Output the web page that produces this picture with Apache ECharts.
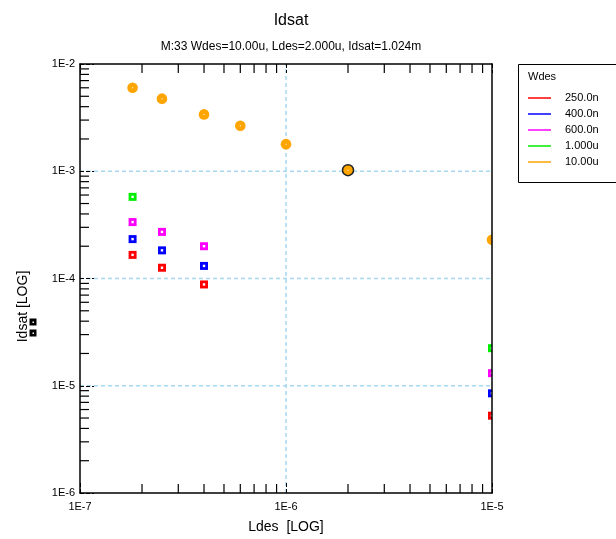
<!DOCTYPE html>
<html>
<head>
<meta charset="UTF-8">
<title>Idsat</title>
<script src="https://cdn.jsdelivr.net/npm/echarts@6/dist/echarts.min.js"></script>
<style>
  html, body { margin: 0; padding: 0; background: #fff; }
  #main { width: 616px; height: 539px; }
</style>
</head>
<body>
<div id="main"></div>
<script type="text/javascript">
// legend entries (Wdes) and their colours
var wdesNames = ['250.0n', '400.0n', '600.0n', '1.000u', '10.00u'];
var wdesColors = ['#ff0000', '#0000ff', '#ff00ff', '#00ee00', '#ffa500'];

// Ldes (x) and Idsat (y) per Wdes
var ldes250 = [1.8e-7, 2.5e-7, 4e-7, 1e-5];
var idsat250 = [1.66e-4, 1.26e-4, 8.8e-5, 5.26e-6];
var ldes400 = [1.8e-7, 2.5e-7, 4e-7, 1e-5];
var idsat400 = [2.33e-4, 1.83e-4, 1.31e-4, 8.5e-6];
var ldes600 = [1.8e-7, 2.5e-7, 4e-7, 1e-5];
var idsat600 = [3.36e-4, 2.72e-4, 2.0e-4, 1.31e-5];
var ldes1u = [1.8e-7, 1e-5];
var idsat1u = [5.77e-4, 2.24e-5];
var ldes10u = [1.8e-7, 2.5e-7, 4e-7, 6e-7, 1e-6, 2e-6, 1e-5];
var idsat10u = [6.0e-3, 4.75e-3, 3.39e-3, 2.66e-3, 1.79e-3, 1.024e-3, 2.30e-4];
var selectedIndex = 5; // M:33 point, Ldes=2.000u

// axis ticks / grid lines
var xMin = 1e-7, xMax = 1e-5, yMin = 1e-6, yMax = 1e-2;
var minorMult = [2, 3, 4, 5, 6, 7, 8, 9];
var xDecades = [1e-7, 1e-6];
var yDecades = [1e-6, 1e-5, 1e-4, 1e-3];
var xGridLines = [1e-6];
var yGridLines = [1e-5, 1e-4, 1e-3];

var xMinorTicks = [];
xDecades.forEach(function (d) { minorMult.forEach(function (m) { xMinorTicks.push(m * d); }); });
var yMinorTicks = [];
yDecades.forEach(function (d) { minorMult.forEach(function (m) { yMinorTicks.push(m * d); }); });

function zip(xs, ys) {
  return xs.map(function (x, i) { return [x, ys[i]]; });
}
var seriesData = [zip(ldes250, idsat250), zip(ldes400, idsat400), zip(ldes600, idsat600),
                  zip(ldes1u, idsat1u), zip(ldes10u, idsat10u)];

var FONT = 'Liberation Sans, Arial, sans-serif';
var GRID_COLOR = '#a6d8f2';

function logLabel(v) {
  return '1E' + Math.round(Math.log10(v));
}

// square marker with a white centre
function squareItem(color) {
  return function (params, api) {
    var p = api.coord([api.value(0), api.value(1)]);
    return {
      type: 'group',
      children: [
        { type: 'rect', shape: { x: p[0] - 4, y: p[1] - 4, width: 8, height: 8 }, style: { fill: color } },
        { type: 'rect', shape: { x: p[0] - 1.2, y: p[1] - 1.2, width: 2.4, height: 2.4 }, style: { fill: '#fff' } }
      ]
    };
  };
}

// round marker, the selected one gets a black ring
function circleItem(color) {
  return function (params, api) {
    var p = api.coord([api.value(0), api.value(1)]);
    var sel = params.dataIndex === selectedIndex;
    return {
      type: 'group',
      children: [
        { type: 'circle', shape: { cx: p[0], cy: p[1], r: sel ? 5.5 : 5.3 },
          style: { fill: color, stroke: sel ? '#222' : null, lineWidth: sel ? 1.5 : 0 } },
        { type: 'rect', shape: { x: p[0] - 0.5, y: p[1] - 0.5, width: 1, height: 1 }, style: { fill: '#fff' } }
      ]
    };
  };
}

var series = [];

// grid lines (dashed light blue, only at inner decades)
series.push({
  type: 'custom', silent: true, z: 1, clip: true,
  data: xGridLines.map(function (v) { return [v, yMin]; }),
  renderItem: function (params, api) {
    var a = api.coord([api.value(0), yMin]);
    var b = api.coord([api.value(0), yMax]);
    return { type: 'line', shape: { x1: a[0], y1: a[1], x2: b[0], y2: b[1] },
      style: { stroke: GRID_COLOR, lineWidth: 1.5, lineDash: [4, 3] } };
  }
});
series.push({
  type: 'custom', silent: true, z: 1, clip: true,
  data: yGridLines.map(function (v) { return [xMin, v]; }),
  renderItem: function (params, api) {
    var a = api.coord([xMin, api.value(1)]);
    var b = api.coord([xMax, api.value(1)]);
    return { type: 'line', shape: { x1: a[0], y1: a[1], x2: b[0], y2: b[1] },
      style: { stroke: GRID_COLOR, lineWidth: 1.5, lineDash: [4, 3] } };
  }
});

// minor ticks: bottom (up) and top (down) on x, left (right) on y
series.push({
  type: 'custom', silent: true, z: 3,
  data: xMinorTicks.map(function (v) { return [v, yMin]; }),
  renderItem: function (params, api) {
    var a = api.coord([api.value(0), yMin]);
    var b = api.coord([api.value(0), yMax]);
    return { type: 'group', children: [
      { type: 'line', shape: { x1: a[0], y1: a[1], x2: a[0], y2: a[1] - 9 }, style: { stroke: '#000', lineWidth: 1.2 } },
      { type: 'line', shape: { x1: b[0], y1: b[1], x2: b[0], y2: b[1] + 9 }, style: { stroke: '#000', lineWidth: 1.2 } }
    ] };
  }
});
series.push({
  type: 'custom', silent: true, z: 3,
  data: yMinorTicks.map(function (v) { return [xMin, v]; }),
  renderItem: function (params, api) {
    var a = api.coord([xMin, api.value(1)]);
    return { type: 'line', shape: { x1: a[0], y1: a[1], x2: a[0] + 9, y2: a[1] }, style: { stroke: '#000', lineWidth: 1.2 } };
  }
});

// data
seriesData.forEach(function (d, i) {
  series.push({
    name: wdesNames[i],
    type: 'custom',
    clip: true,
    z: 2,
    itemStyle: { color: wdesColors[i] },
    data: d,
    encode: { x: 0, y: 1 },
    renderItem: i === 4 ? circleItem(wdesColors[i]) : squareItem(wdesColors[i])
  });
});

var myChart = echarts.init(document.getElementById('main'));
var option = {
  backgroundColor: '#fff',
  animation: false,
  textStyle: { fontFamily: FONT },
  title: {
    text: 'Idsat',
    subtext: 'M:33 Wdes=10.00u, Ldes=2.000u, Idsat=1.024m',
    left: 286,
    textAlign: 'center',
    top: 8,
    itemGap: 12,
    textStyle: { fontFamily: FONT, fontSize: 16, fontWeight: 'normal', color: '#000' },
    subtextStyle: { fontFamily: FONT, fontSize: 12, color: '#000' }
  },
  legend: {
    orient: 'vertical',
    left: 528,
    top: 90,
    padding: 0,
    data: wdesNames,
    icon: 'rect',
    itemWidth: 23,
    itemHeight: 1.5,
    itemGap: 0,
    selectedMode: false,
    textStyle: { fontFamily: FONT, fontSize: 11, color: '#000', lineHeight: 16, padding: [0, 0, 0, 9] }
  },
  graphic: [
    { type: 'rect', shape: { x: 518.5, y: 64.5, width: 110, height: 118 },
      style: { fill: 'none', stroke: '#000', lineWidth: 1 }, z: 0 },
    { type: 'text', x: 528, y: 71, style: { text: 'Wdes', font: '11px ' + FONT, fill: '#000' } },
    { type: 'rect', shape: { x: 29.5, y: 318.5, width: 7, height: 7 }, style: { fill: '#000' } },
    { type: 'rect', shape: { x: 32.5, y: 321.5, width: 1.5, height: 1.5 }, style: { fill: '#fff' } },
    { type: 'rect', shape: { x: 29.5, y: 329.5, width: 7, height: 7 }, style: { fill: '#000' } },
    { type: 'rect', shape: { x: 32.5, y: 332.5, width: 1.5, height: 1.5 }, style: { fill: '#fff' } }
  ],
  grid: { left: 80, right: 124, top: 64, bottom: 44 },
  xAxis: [{
    type: 'log', logBase: 10, min: xMin, max: xMax, position: 'bottom', z: 5,
    name: 'Ldes  [LOG]', nameLocation: 'middle', nameGap: 27,
    nameTextStyle: { fontFamily: FONT, fontSize: 14, color: '#000' },
    axisLine: { lineStyle: { color: '#000', width: 1.5 } },
    axisTick: { inside: true, length: 12, lineStyle: { color: '#000', type: 'dashed' } },
    axisLabel: { formatter: logLabel, fontFamily: FONT, fontSize: 11, color: '#000', margin: 8 },
    splitLine: { show: false }
  }, {
    type: 'log', logBase: 10, min: xMin, max: xMax, position: 'top', z: 5,
    axisLine: { lineStyle: { color: '#000', width: 1.5 } },
    axisTick: { inside: true, length: 9, lineStyle: { color: '#000', type: 'dashed' } },
    axisLabel: { show: false },
    splitLine: { show: false }
  }],
  yAxis: [{
    type: 'log', logBase: 10, min: yMin, max: yMax, position: 'left', z: 5,
    name: 'Idsat [LOG]', nameLocation: 'middle', nameGap: 50,
    nameTextStyle: { fontFamily: FONT, fontSize: 14, color: '#000', padding: [0, 56, 0, 0] },
    axisLine: { lineStyle: { color: '#000', width: 1.5 } },
    axisTick: { inside: true, length: 14, lineStyle: { color: '#000', type: 'dashed' } },
    axisLabel: { formatter: logLabel, fontFamily: FONT, fontSize: 11, color: '#000', margin: 5, padding: [0, 0, 6, 0] },
    splitLine: { show: false }
  }, {
    type: 'log', logBase: 10, min: yMin, max: yMax, position: 'right', z: 5,
    axisLine: { lineStyle: { color: '#000', width: 1.5 } },
    axisTick: { show: false },
    axisLabel: { show: false },
    splitLine: { show: false }
  }],
  series: series
};
myChart.setOption(option);
</script>
</body>
</html>
